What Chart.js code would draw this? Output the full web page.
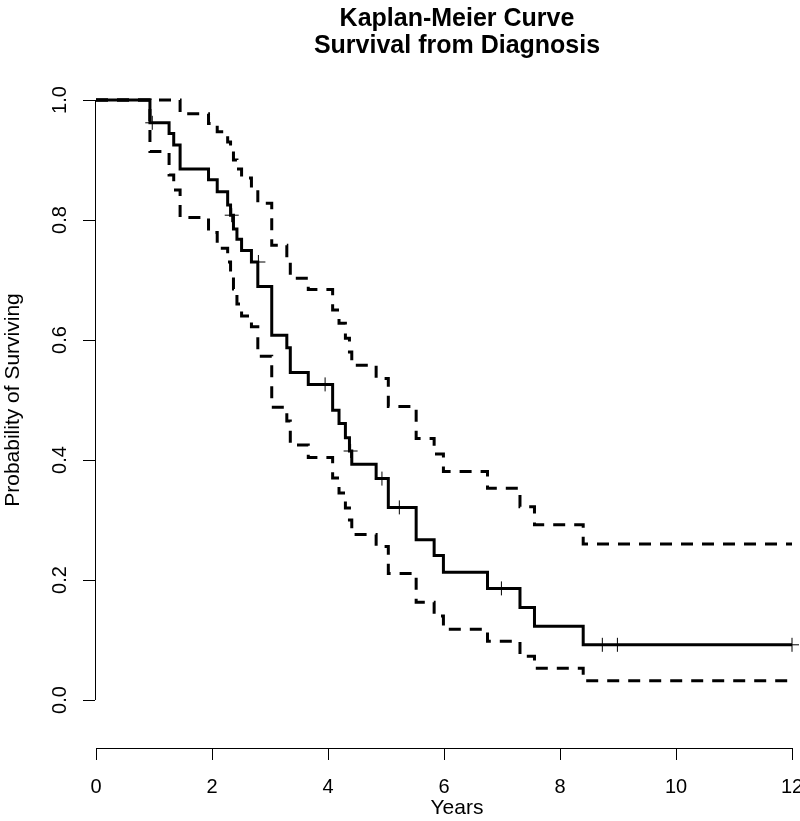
<!DOCTYPE html>
<html>
<head>
<meta charset="utf-8">
<script src="https://cdn.jsdelivr.net/npm/chart.js@4/dist/chart.umd.min.js"></script>
<style>
  html, body { margin: 0; padding: 0; background: #fff; }
  #wrap { width: 800px; height: 821px; position: relative; }
</style>
</head>
<body>
<div id="wrap"><canvas id="c"></canvas></div>
<script>
// ---- Data ----
const titleLines = ["Kaplan-Meier Curve", "Survival from Diagnosis"];
const xTitle = "Years";
const yTitle = "Probability of Surviving";
const xTicks = [0, 2, 4, 6, 8, 10, 12];
const yTicks = [0.0, 0.2, 0.4, 0.6, 0.8, 1.0];
const yTickLabels = ["0.0", "0.2", "0.4", "0.6", "0.8", "1.0"];

const eventTimes = [0, 0.93, 1.26, 1.34, 1.45, 1.94, 2.09, 2.27, 2.32, 2.37, 2.43, 2.51, 2.68, 2.79, 3.03,
  3.29, 3.35, 3.66, 4.08, 4.19, 4.30, 4.37, 4.41, 4.83, 5.04, 5.52, 5.83, 5.99, 6.75, 7.31, 7.56, 8.40, 12.0];
const survival = [1.0, 0.962, 0.944, 0.925, 0.885, 0.867, 0.847, 0.825, 0.808, 0.785, 0.768, 0.749, 0.730, 0.689, 0.608,
  0.587, 0.546, 0.526, 0.483, 0.461, 0.437, 0.415, 0.393, 0.369, 0.321, 0.267, 0.241, 0.213, 0.186, 0.154, 0.123, 0.092, 0.092];
const upperCI = [1.0, 1.0, 1.0, 1.0, 0.977, 0.961, 0.947, 0.930, 0.915, 0.900, 0.885, 0.870, 0.852, 0.828, 0.758,
  0.730, 0.703, 0.684, 0.650, 0.628, 0.603, 0.580, 0.558, 0.536, 0.489, 0.436, 0.410, 0.381, 0.353, 0.322, 0.292, 0.260, 0.260];
const lowerCI = [1.0, 0.914, 0.875, 0.850, 0.804, 0.779, 0.753, 0.730, 0.710, 0.685, 0.660, 0.640, 0.622, 0.573, 0.488,
  0.465, 0.425, 0.404, 0.370, 0.345, 0.320, 0.300, 0.276, 0.256, 0.211, 0.163, 0.140, 0.118, 0.098, 0.073, 0.053, 0.032, 0.032];
const censorTimes = [0.97, 2.34, 2.80, 3.95, 4.39, 4.93, 5.23, 6.99, 8.73, 8.99, 12.0];
const censorSurv = [0.962, 0.808, 0.730, 0.526, 0.415, 0.369, 0.321, 0.186, 0.092, 0.092, 0.092];

// ---- build datasets ----
const pts = (xs, ys) => xs.map((x, i) => ({ x: x, y: ys[i] }));
const FONT = "'Liberation Sans', Arial, sans-serif";

function drawText(ctx, text, x, y, font, rot) {
  ctx.save();
  ctx.translate(x, y);
  if (rot) ctx.rotate(rot);
  ctx.font = font;
  ctx.textAlign = 'center';
  ctx.textBaseline = 'middle';
  ctx.fillText(text, 0, 0);
  ctx.restore();
}

const rAxes = {
  id: 'rAxes',
  afterDraw(chart) {
    const ctx = chart.ctx, xs = chart.scales.x, ys = chart.scales.y;
    const axisY = 748, axisX = 95, tick = 12, centerX = 457;
    const tickFont = "20px " + FONT;
    ctx.save();
    ctx.strokeStyle = '#000'; ctx.fillStyle = '#000'; ctx.lineWidth = 1;
    // x axis
    ctx.beginPath();
    ctx.moveTo(xs.getPixelForValue(xTicks[0]), axisY + 0.5);
    ctx.lineTo(xs.getPixelForValue(xTicks[xTicks.length - 1]), axisY + 0.5);
    xTicks.forEach(v => {
      const px = Math.round(xs.getPixelForValue(v)) + 0.5;
      ctx.moveTo(px, axisY); ctx.lineTo(px, axisY + tick);
    });
    ctx.stroke();
    xTicks.forEach(v => drawText(ctx, String(v), xs.getPixelForValue(v), 787, tickFont, 0));
    drawText(ctx, xTitle, centerX, 808, "21px " + FONT, 0);
    // y axis
    ctx.beginPath();
    ctx.moveTo(axisX + 0.5, ys.getPixelForValue(yTicks[0]));
    ctx.lineTo(axisX + 0.5, ys.getPixelForValue(yTicks[yTicks.length - 1]));
    yTicks.forEach(v => {
      const py = Math.round(ys.getPixelForValue(v)) + 0.5;
      ctx.moveTo(axisX, py); ctx.lineTo(axisX - tick, py);
    });
    ctx.stroke();
    yTicks.forEach((v, i) => drawText(ctx, yTickLabels[i], 60, ys.getPixelForValue(v), tickFont, -Math.PI / 2));
    drawText(ctx, yTitle, 13, ys.getPixelForValue(0.5), "21px " + FONT, -Math.PI / 2);
    // title
    drawText(ctx, titleLines[0], centerX, 19, "bold 25px " + FONT, 0);
    drawText(ctx, titleLines[1], centerX, 46, "bold 25px " + FONT, 0);
    ctx.restore();
  }
};

new Chart(document.getElementById('c'), {
  type: 'scatter',
  data: {
    datasets: [
      { label: 'upper', data: pts(eventTimes, upperCI), showLine: true, stepped: 'before',
        borderColor: '#000', borderWidth: 3, borderDash: [12, 9], pointRadius: 0, fill: false },
      { label: 'lower', data: pts(eventTimes, lowerCI), showLine: true, stepped: 'before',
        borderColor: '#000', borderWidth: 3, borderDash: [12, 9], pointRadius: 0, fill: false },
      { label: 'survival', data: pts(eventTimes, survival), showLine: true, stepped: 'before',
        borderColor: '#000', borderWidth: 3, pointRadius: 0, fill: false },
      { label: 'censored', data: pts(censorTimes, censorSurv), showLine: false,
        pointStyle: 'cross', pointRadius: 7, borderColor: '#000', borderWidth: 1, pointHoverRadius: 7 }
    ]
  },
  options: {
    responsive: true, maintainAspectRatio: false, animation: false,
    layout: { padding: { left: 96, right: 8, top: 100, bottom: 121 } },
    plugins: { legend: { display: false }, tooltip: { enabled: false }, title: { display: false } },
    scales: {
      x: { type: 'linear', min: 0, max: 12, display: false },
      y: { type: 'linear', min: 0, max: 1, display: false }
    },
    elements: { line: { tension: 0, borderCapStyle: 'butt' } },
    clip: false
  },
  plugins: [rAxes]
});
</script>
</body>
</html>
